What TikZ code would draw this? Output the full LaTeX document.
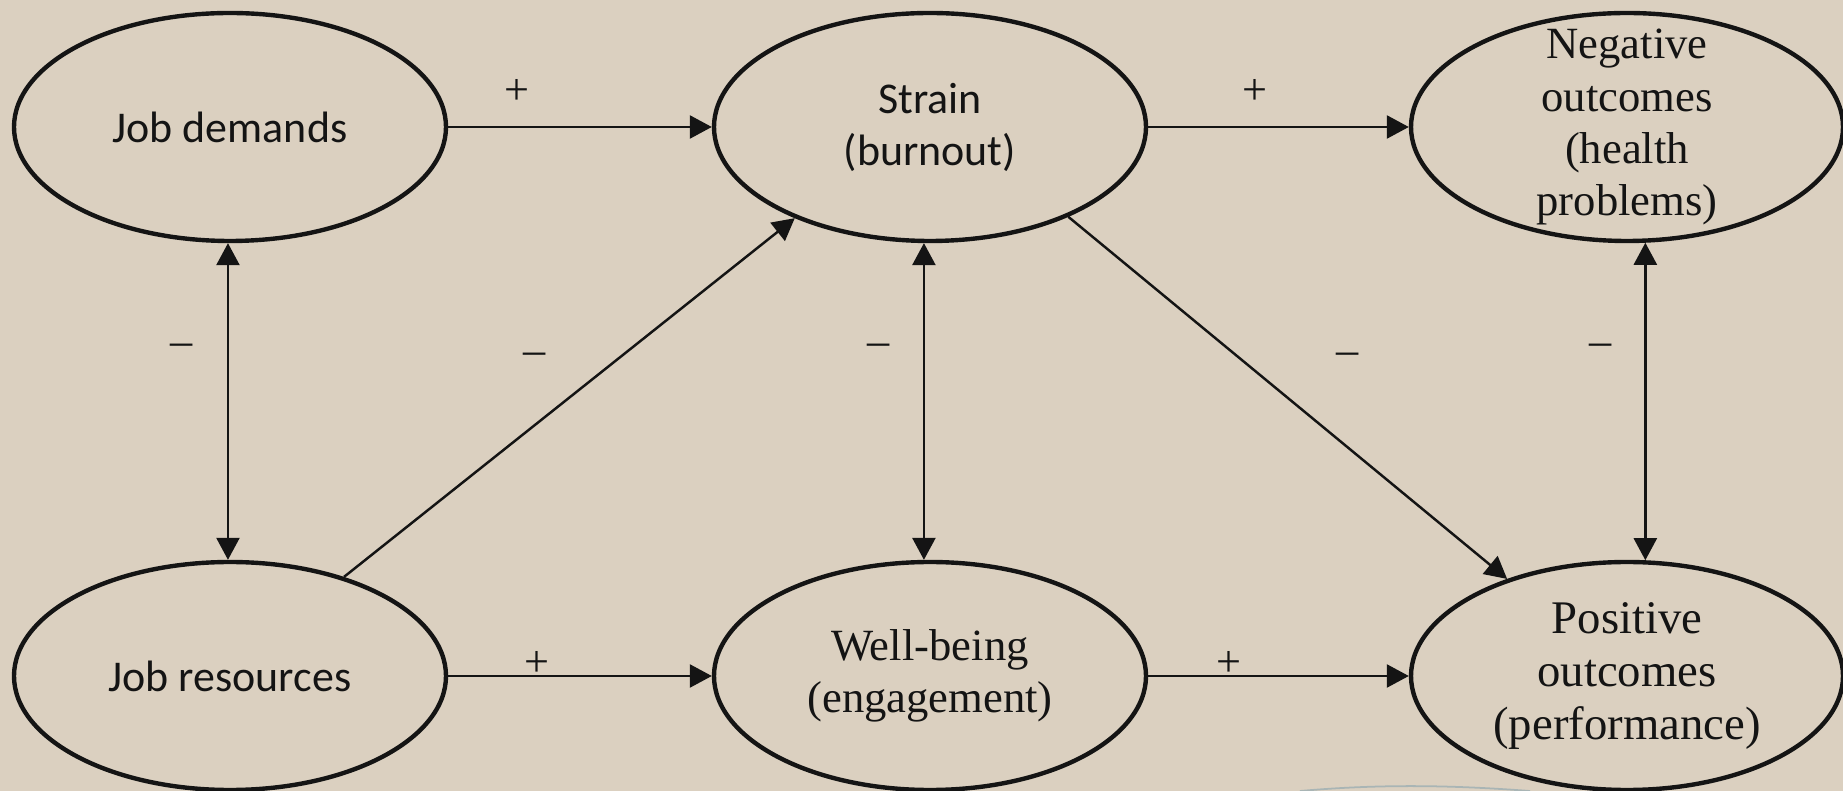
\documentclass[tikz,border=0pt]{standalone}
\usepackage{fontspec}
\setmainfont{Liberation Serif}
\newfontfamily\calib{Carlito}
\usetikzlibrary{arrows.meta,shapes.geometric}
\definecolor{paper}{HTML}{DBD0C0}
\definecolor{ink}{HTML}{141414}
\definecolor{haze}{HTML}{A9B5B5}
\tikzset{
  every node/.style={text=ink},
  oval/.style={ellipse,draw=ink,line width=1.25pt,minimum width=43.2mm,minimum height=22.8mm,inner sep=0},
  sanstxt/.style={font=\calib\fontsize{12.5}{14.8}\selectfont,align=center,inner sep=0},
  seriftxt/.style={font=\fontsize{12.7}{14.8}\selectfont,align=center,inner sep=0},
  sign/.style={font=\fontsize{12.6}{14.6}\selectfont,inner sep=0},
  arr/.style={-{Triangle[length=2.2mm,width=2.3mm]},line width=.7pt,draw=ink},
  dbl/.style={{Triangle[length=2.2mm,width=2.3mm]}-{Triangle[length=2.2mm,width=2.3mm]},line width=.7pt,draw=ink}
}
\begin{document}
\begin{tikzpicture}[x=.1mm,y=-.1mm]
\path[use as bounding box,fill=paper] (0,0) rectangle (1843,791);
% top row
\node[oval] (jd) at (230,127) {};
\node[sanstxt] (jdtxt) at (jd) {Job demands};
\node[oval] (st) at (930,127) {};
\node[sanstxt] (sttxt) at (st) {Strain\\(burnout)};
\node[oval] (neg) at (1627,127) {};
\node[seriftxt] (negtxt) at (neg) {Negative\\outcomes\\(health\\problems)};
% bottom row
\node[oval] (jr) at (230,676) {};
\node[sanstxt] (jrtxt) at (jr) {Job resources};
\node[oval] (wb) at (930,676) {};
\node[seriftxt] (wbtxt) at (wb) {Well-being\\(engagement)};
\node[oval] (pos) at (1627,676) {};
\node[seriftxt,font=\fontsize{13.3}{15.2}\selectfont] (postxt) at (pos) {Positive\\outcomes\\(performance)};
% paths
\draw[arr] (jd) -- (st);
\draw[arr] (st) -- (neg);
\draw[arr] (jr) -- (wb);
\draw[arr] (wb) -- (pos);
\draw[dbl] (jd.-91) -- (jr.91);
\draw[dbl] (st.-93) -- (wb.93);
\draw[dbl] (neg.-81) -- (pos.81);
\draw[arr] (jr.41) -- (st.214);
\draw[arr] (st.-33) -- (pos.141);
% signs
\node[sign] (s1) at (517,92) {+};
\node[sign] (s2) at (1255,92) {+};
\node[sign] (s3) at (537,664) {+};
\node[sign] (s4) at (1229,664) {+};
\node[sign] (s5) at (182,350) {–};
\node[sign] (s6) at (879,350) {–};
\node[sign] (s7) at (1601,350) {–};
\node[sign] (s8) at (535,359) {–};
\node[sign] (s9) at (1348,359) {–};
\draw[haze,line width=.5pt] (1300,791) .. controls (1380,784) and (1450,785) .. (1530,791);
\end{tikzpicture}
\end{document}
